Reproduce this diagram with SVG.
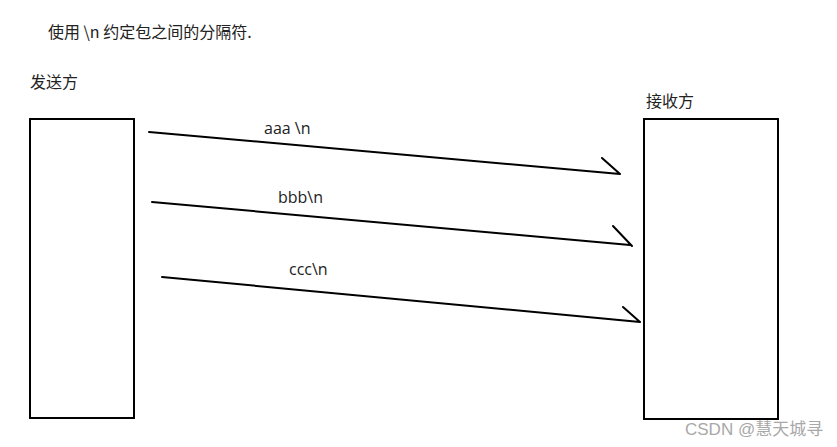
<svg xmlns="http://www.w3.org/2000/svg" width="837" height="447" viewBox="0 0 837 447">
<style>
.box{fill:#fff;stroke:#000;stroke-width:2}
.ln{stroke:#000;stroke-width:2;fill:none;stroke-linecap:round}
.t{font-family:"Open Sans","Noto Sans CJK SC",sans-serif;font-size:16px;fill:#222}
.cjk{font-family:"Noto Sans CJK SC",sans-serif;font-size:16px;fill:#222}
.wm{font-family:"Liberation Sans","Noto Sans CJK SC",sans-serif;font-size:17px;fill:#a8a8a8}
</style>
<rect width="837" height="447" fill="#fff"/>
<text class="cjk" x="48" y="38">使用 \n 约定包之间的分隔符.</text>
<g id="sender">
<text class="cjk" x="30" y="88">发送方</text>
<rect class="box" x="30" y="119" width="104" height="299"/>
</g>
<g id="receiver">
<text class="cjk" x="646" y="107">接收方</text>
<rect class="box" x="644" y="119" width="134" height="300"/>
</g>
<g id="connectors">
<path class="ln" d="M149,132 L620,174 M602,158 L620,174"/>
<path class="ln" d="M152,202 L630,245 M613,226 L632,246"/>
<path class="ln" d="M162,277 L640,322 M623,307 L640,322"/>
<text class="t" x="264" y="134">aaa \n</text>
<text class="t" x="278" y="203">bbb\n</text>
<text class="t" x="289" y="275">ccc\n</text>
</g>
<text class="wm" x="685" y="435">CSDN @慧天城寻</text>
</svg>
